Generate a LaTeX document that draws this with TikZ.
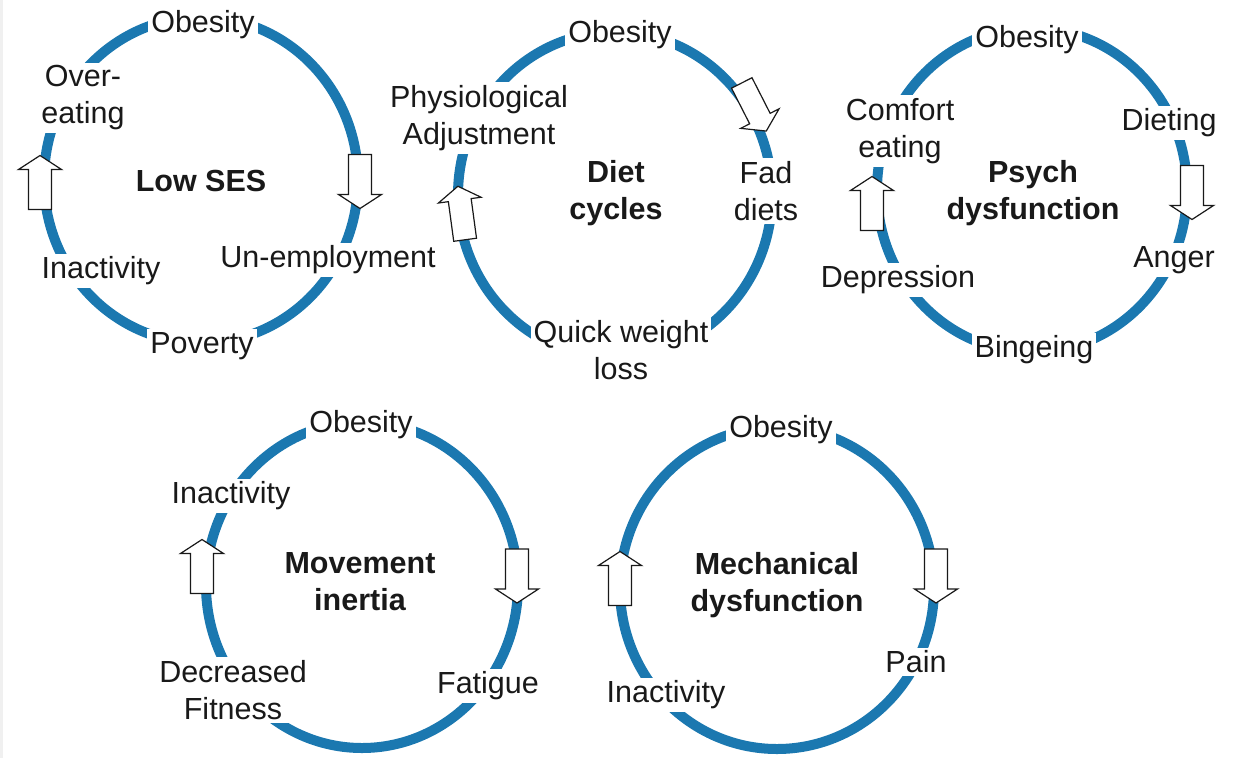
\documentclass[tikz,border=0pt]{standalone}
\usepackage{fontspec}
\setmainfont{Liberation Sans}
\definecolor{ringblue}{RGB}{27,120,176}
\definecolor{ink}{RGB}{25,25,25}
\tikzset{
  ring/.style={draw=ringblue, line width=10pt},
  lbl/.style={fill=white, inner sep=3pt, align=center, text=ink,
    font=\fontsize{30.5}{37}\selectfont},
  ttl/.style={inner sep=0pt, align=center, text=ink,
    font=\fontsize{30.5}{37}\selectfont\bfseries},
  blockarrow/.style={draw=ink, fill=white, line width=1.2pt, line join=miter},
}
% hollow block arrow: centre x, centre y, direction (degrees)
\newcommand\cyclearrow[3]{%
  \begin{scope}[shift={(#1,#2)}, rotate=#3]
    \draw[blockarrow] (-27pt,-11.5pt) -- (13pt,-11.5pt) -- (13pt,-21.5pt)
      -- (27pt,0pt) -- (13pt,21.5pt) -- (13pt,11.5pt) -- (-27pt,11.5pt) -- cycle;
  \end{scope}}
\begin{document}
\begin{tikzpicture}[x=1pt, y=-1pt]
\useasboundingbox (0,0) rectangle (1238,758);
\fill[gray!12] (0,0) rectangle (2.5,758);

% ---- Low SES ----
\coordinate (c1) at (201,180);
\draw[ring] (c1) ellipse [x radius=157pt, y radius=163pt];
\node[ttl] (c1t) at (201,181) {Low SES};
\node[lbl] (c1a) at (203,25) {Obesity};
\node[lbl] (c1b) at (328,260) {Un-employment};
\node[lbl] (c1c) at (202,346) {Poverty};
\node[lbl] (c1d) at (101,271) {Inactivity};
\node[lbl] (c1e) at (83,98) {Over-\\eating};
\cyclearrow{360}{181.5}{-90}
\cyclearrow{40}{182.5}{90}

% ---- Diet cycles ----
\coordinate (c2) at (615,195);
\draw[ring] (c2) ellipse [x radius=157pt, y radius=163pt];
\node[ttl] (c2t) at (616,193) {Diet\\cycles};
\node[lbl] (c2a) at (620,35) {Obesity};
\node[lbl] (c2b) at (766,191) {Fad\\diets};
\node[lbl] (c2c) at (621,350) {Quick weight\\loss};
\node[lbl] (c2d) at (479,118) {Physiological\\Adjustment};
\cyclearrow{754}{107}{-63}
\cyclearrow{461.5}{213}{97.7}

% ---- Psych dysfunction ----
\coordinate (c3) at (1032,190);
\draw[ring] (c3) ellipse [x radius=155pt, y radius=162pt];
\node[ttl] (c3t) at (1033,193) {Psych\\dysfunction};
\node[lbl] (c3a) at (1027,40) {Obesity};
\node[lbl] (c3b) at (1169,123) {Dieting};
\node[lbl] (c3c) at (1174,260) {Anger};
\node[lbl] (c3d) at (1034,350) {Bingeing};
\node[lbl] (c3e) at (898,280) {Depression};
\node[lbl] (c3f) at (900,131) {Comfort\\eating};
\cyclearrow{1192}{192.5}{-90}
\cyclearrow{872}{203.5}{90}

% ---- Movement inertia ----
\coordinate (c4) at (362,585);
\draw[ring] (c4) ellipse [x radius=156pt, y radius=163pt];
\node[ttl] (c4t) at (360,582) {Movement\\inertia};
\node[lbl] (c4a) at (361,425) {Obesity};
\node[lbl] (c4b) at (488,686) {Fatigue};
\node[lbl] (c4c) at (233,690) {Decreased\\Fitness};
\node[lbl] (c4d) at (231,496) {Inactivity};
\cyclearrow{517}{576}{-90}
\cyclearrow{202}{566.5}{90}

% ---- Mechanical dysfunction ----
\coordinate (c5) at (777,588);
\draw[ring] (c5) ellipse [x radius=157pt, y radius=161pt];
\node[ttl] (c5t) at (777,585) {Mechanical\\dysfunction};
\node[lbl] (c5a) at (781,430) {Obesity};
\node[lbl] (c5b) at (916,662) {Pain};
\node[lbl] (c5c) at (666,695) {Inactivity};
\cyclearrow{936}{576}{-90}
\cyclearrow{620}{578.5}{90}
\end{tikzpicture}
\end{document}
